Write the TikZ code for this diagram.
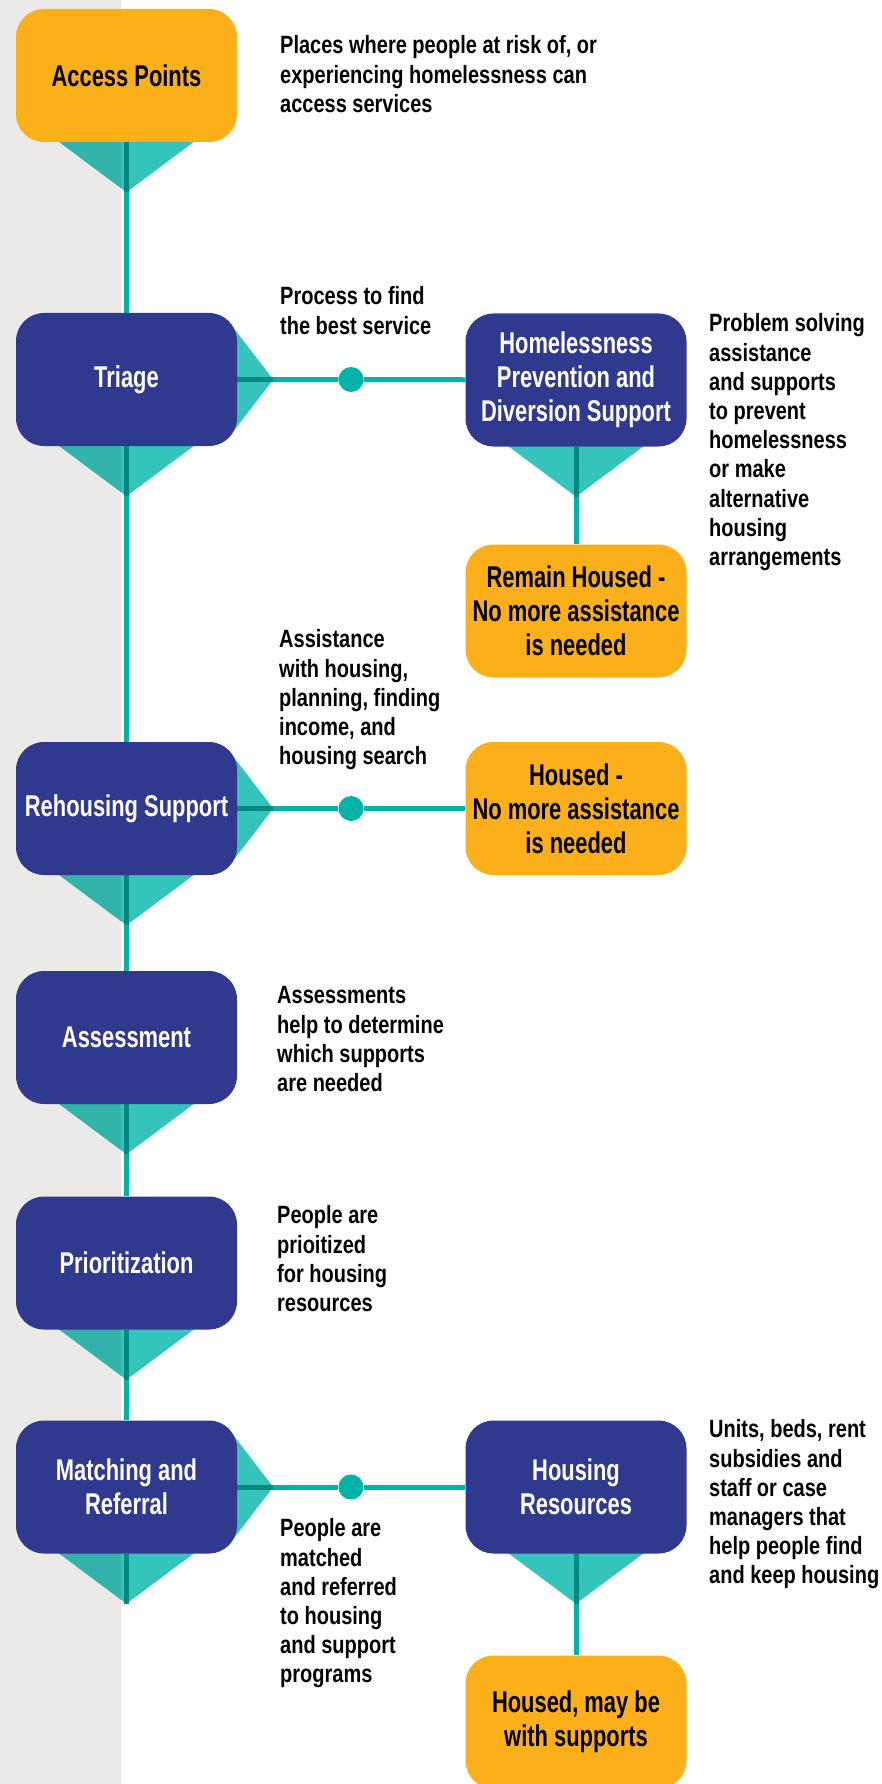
\documentclass[tikz,border=0pt]{standalone}
\usepackage{fontspec}
\newfontfamily\labelfont{Liberation Sans Bold}[FakeStretch=0.73]
\newfontfamily\notefont{Liberation Sans Bold}[FakeStretch=0.80]
\definecolor{navy}{HTML}{2F3A8F}
\definecolor{gold}{HTML}{FBB01B}
\definecolor{strip}{HTML}{EBEAE8}
\definecolor{tealline}{HTML}{00B2A8}
\definecolor{teallight}{HTML}{34C4BC}
\definecolor{tealgray}{HTML}{31B3AA}
\definecolor{tealdark}{HTML}{00897F}
\pgfdeclarelayer{back}
\pgfdeclarelayer{mid}
\pgfsetlayers{back,mid,main}

\tikzset{
  stage/.style={rectangle, rounded corners=28pt, minimum width=221pt, minimum height=133pt,
    inner sep=0pt, align=center, font=\labelfont\fontsize{30}{34}\selectfont},
  navybox/.style={stage, fill=navy, text=white},
  goldbox/.style={stage, fill=gold, text=black},
  note/.style={anchor=north west, inner sep=0pt, align=left, font=\notefont\fontsize{25}{29.2}\selectfont},
  flow/.style={draw=tealline, line width=5pt},
  stem/.style={draw=tealdark, line width=5pt},
  dot/.style={circle, fill=tealline, inner sep=0pt, minimum size=25pt},
}

% teal point under a box
\newcommand{\downpin}[1]{%
  \path ([yshift=-50pt]#1.south) coordinate (#1-tip);
  \begin{pgfonlayer}{mid}
    \fill[teallight] ([xshift=-75pt,yshift=6pt]#1.south) -- (#1-tip) -- ([xshift=75pt,yshift=6pt]#1.south) -- cycle;
    \begin{scope}
      \clip (0,0) rectangle (121,1784);
      \fill[tealgray] ([xshift=-75pt,yshift=6pt]#1.south) -- (#1-tip) -- ([xshift=75pt,yshift=6pt]#1.south) -- cycle;
    \end{scope}
    \draw[stem] (#1.south) -- (#1-tip);
  \end{pgfonlayer}}

% teal point right of a box
\newcommand{\sidepin}[1]{%
  \path ([xshift=36pt]#1.east) coordinate (#1-side);
  \begin{pgfonlayer}{mid}
    \fill[teallight] ([xshift=-4pt,yshift=52pt]#1.east) -- (#1-side) -- ([xshift=-4pt,yshift=-52pt]#1.east) -- cycle;
    \draw[stem] (#1.east) -- (#1-side);
  \end{pgfonlayer}}

\begin{document}
\begin{tikzpicture}[x=1pt, y=-1pt]
    \useasboundingbox (0,0) rectangle (882,1784);

    % Left column
    \node[goldbox] (access) at (126.5,75.5) {Access Points};
    \node[navybox] (triage) at (126.5,379.5) {Triage};
    \node[navybox] (rehouse) at (126.5,808.5) {Rehousing Support};
    \node[navybox] (assess) at (126.5,1037.5) {Assessment};
    \node[navybox] (prior) at (126.5,1263) {Prioritization};
    \node[navybox] (match) at (126.5,1487) {Matching and\\Referral};

    % Right column
    \node[navybox] (prevent) at (576,380) {Homelessness\\Prevention and\\Diversion Support};
    \node[goldbox] (remain) at (576,611) {Remain Housed -\\No more assistance\\is needed};
    \node[goldbox] (housed) at (576,808.5) {Housed -\\No more assistance\\is needed};
    \node[navybox] (resources) at (576,1487) {Housing\\Resources};
    \node[goldbox] (settled) at (576,1722) {Housed, may be\\with supports};

    % Dots
    \node[dot] (d1) at (351,379.5) {};
    \node[dot] (d2) at (351,808.5) {};
    \node[dot] (d3) at (351,1487) {};

    % Points
    \downpin{access}
    \downpin{triage}
    \downpin{rehouse}
    \downpin{assess}
    \downpin{prior}
    \downpin{match}
    \downpin{prevent}
    \downpin{resources}
    \sidepin{triage}
    \sidepin{rehouse}
    \sidepin{match}

    % Lines
    \begin{pgfonlayer}{back}
        \fill[strip] (0,0) rectangle (121,1784);
        \draw[flow] (access-tip) -- (triage);
        \draw[flow] (triage-tip) -- (rehouse);
        \draw[flow] (rehouse-tip) -- (assess);
        \draw[flow] (assess-tip) -- (prior);
        \draw[flow] (prior-tip) -- (match);
        \draw[flow] (triage-side) -- (d1) -- (prevent);
        \draw[flow] (rehouse-side) -- (d2) -- (housed);
        \draw[flow] (match-side) -- (d3) -- (resources);
        \draw[flow] (prevent-tip) -- (remain);
        \draw[flow] (resources-tip) -- (settled);
    \end{pgfonlayer}

    % Notes
    \node[note] (n-access) at (280,35.5) {Places where people at risk of, or\\experiencing homelessness can\\access services};
    \node[note] (n-triage) at (280,286.5) {Process to find\\the best service};
    \node[note] (n-prevent) at (709,313.5) {Problem solving\\assistance\\and supports\\to prevent\\homelessness\\or make\\alternative\\housing\\arrangements};
    \node[note] (n-rehouse) at (279,629.5) {Assistance\\with housing,\\planning, finding\\income, and\\housing search};
    \node[note] (n-assess) at (277,986.5) {Assessments\\help to determine\\which supports\\are needed};
    \node[note] (n-prior) at (277,1205.5) {People are\\prioitized\\for housing\\resources};
    \node[note] (n-match) at (280,1518.5) {People are\\matched\\and referred\\to housing\\and support\\programs};
    \node[note] (n-units) at (709,1419.5) {Units, beds, rent\\subsidies and\\staff or case\\managers that\\help people find\\and keep housing};
\end{tikzpicture}
\end{document}
